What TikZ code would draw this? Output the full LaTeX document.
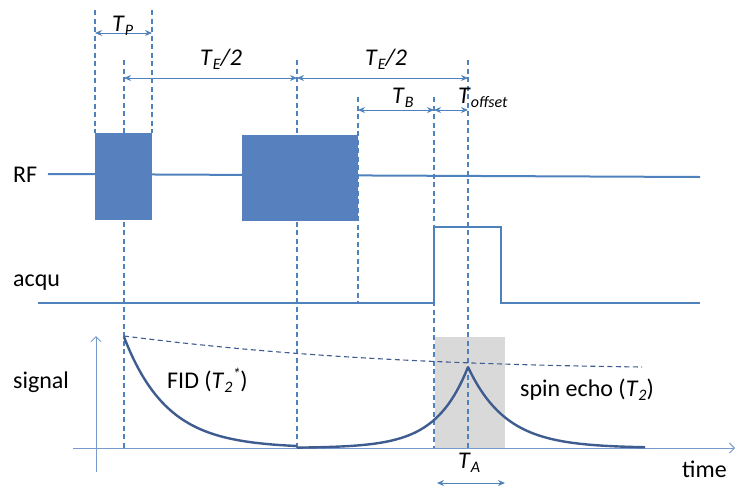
\documentclass[tikz,border=0pt]{standalone}
\usepackage{fontspec}
\setmainfont{Carlito}
\usetikzlibrary{arrows.meta}

\definecolor{lineblue}{RGB}{79,129,189}
\definecolor{pulseblue}{RGB}{86,128,190}
\definecolor{curveblue}{RGB}{62,92,143}
\definecolor{axisblue}{RGB}{120,155,205}
\definecolor{boxgray}{RGB}{217,217,217}

\newcommand{\subtxt}[1]{\raisebox{-0.35ex}{\fontsize{16}{16}\selectfont\itshape #1}}
\newcommand{\suptxt}[1]{\raisebox{0.75ex}{\fontsize{16}{16}\selectfont\itshape #1}}

\begin{document}
\begin{tikzpicture}[x=1pt, y=-1pt, >={Stealth[length=7pt,width=6pt]},
  every node/.style={inner sep=0pt, anchor=base west, font=\fontsize{24}{28}\selectfont},
  guide/.style={lineblue, line width=1.1pt, dash pattern=on 5pt off 3.5pt},
  dim/.style={<->, lineblue, line width=1pt},
  wave/.style={lineblue, line width=2.2pt},
  axis/.style={-{Straight Barb[length=5pt,width=10pt]}, axisblue, line width=0.9pt}]
  \useasboundingbox (0,0) rectangle (735,491);
  % acquisition window
  \fill[boxgray] (435,337) rectangle (505,448);
  % time marks
  \draw[guide] (95,10) -- (95,133);
  \draw[guide] (152,10) -- (152,133);
  \draw[guide] (124,60) -- (124,448);
  \draw[guide] (297,60) -- (297,448);
  \draw[guide] (358,97) -- (358,303);
  \draw[guide] (434,97) -- (434,448);
  \draw[guide] (468,60) -- (468,448);
  % RF
  \draw[wave, line width=2pt] (48,174) -- (700,177);
  \fill[pulseblue] (95,133) rectangle (152,220);
  \fill[pulseblue] (242,135) rectangle (358,221);
  % acqu
  \draw[wave, line width=2.5pt] (38,303) -- (434,303) -- (434,227) -- (501,227) -- (501,303) -- (700,303);
  % axes
  \coordinate (yb) at (96,472); \coordinate (yt) at (96,336);
  \coordinate (xl) at (73,448); \coordinate (xr) at (735,448);
  \draw[axis] (yb) -- (yt);
  \draw[axis] (xl) -- (xr);
  % envelope and signal
  \draw[curveblue, line width=1.1pt, dash pattern=on 5pt off 3.5pt] (124,336) .. controls (250,352) and (400,364) .. (642,367);
  \draw[curveblue, line width=2.4pt, domain=124:297, samples=60] plot (\x, {448-111*exp(-(\x-124)/43)});
  \draw[curveblue, line width=2.4pt, domain=297:468, samples=60] plot (\x, {448-81*exp(-(468-\x)/32)});
  \draw[curveblue, line width=2.4pt, domain=468:645, samples=60] plot (\x, {448-81*exp(-(\x-468)/38)});
  % intervals
  \coordinate (tpL) at (95,33);   \coordinate (tpR) at (152,33);
  \coordinate (te0) at (124,78);  \coordinate (te1) at (297,78);  \coordinate (te2) at (468,78);
  \coordinate (tbL) at (358,110); \coordinate (tbR) at (434,110); \coordinate (toR) at (468,110);
  \coordinate (taL) at (437,483); \coordinate (taR) at (505,483);
  \draw[dim] (tpL) -- (tpR);
  \draw[dim] (te0) -- (te1);
  \draw[dim] (te1) -- (te2);
  \draw[dim] (tbL) -- (tbR);
  \draw[dim] (tbR) -- (toR);
  \draw[dim] (taL) -- (taR);
  % labels
  \node (tp) at (112,31) {\textit{T}\subtxt{P}};
  \node (tehalf1) at (200,65) {\textit{T}\subtxt{E}\textit{/2}};
  \node (tehalf2) at (365,65) {\textit{T}\subtxt{E}\textit{/2}};
  \node (tb) at (392,103) {\textit{T}\subtxt{B}};
  \node (toff) at (458,103) {\textit{T}\subtxt{offset}};
  \node (ta) at (458,468) {\textit{T}\subtxt{A}};
  \node (rf) at (13,182) {RF};
  \node (acqu) at (13,286) {acqu};
  \node (signal) at (13,388) {signal};
  \node (fid) at (167,388) {FID (\textit{T}\subtxt{2}\suptxt{*})};
  \node (echo) at (520,396) {spin echo (\textit{T}\subtxt{2})};
  \node (time) at (682,477) {time};
\end{tikzpicture}
\end{document}
